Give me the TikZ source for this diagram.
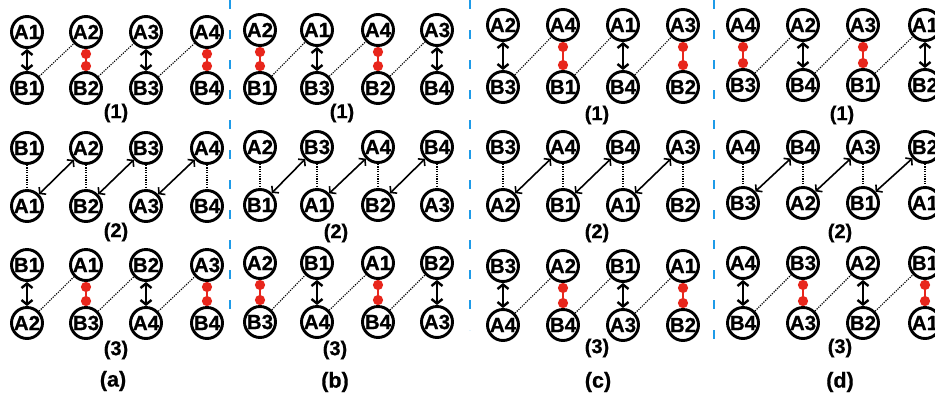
\documentclass[tikz,border=0pt]{standalone}
\usepackage{fontspec}
\setmainfont{Liberation Sans}[BoldFeatures={FakeBold=0.6}]
\usetikzlibrary{arrows.meta}
\definecolor{myred}{HTML}{E8261C}
\definecolor{myblue}{HTML}{1E9BE8}
\tikzset{
  cnode/.style={circle, draw, line width=2.9pt, minimum size=31pt, inner sep=0pt,
    font=\fontsize{20.5}{20.5}\selectfont\bfseries},
  varrow/.style={line width=2.4pt,
    {Straight Barb[length=4.5pt,width=11pt]}-{Straight Barb[length=4.5pt,width=11pt]}},
  redlink/.style={myred, line width=2.8pt, {Circle[length=10pt]}-{Circle[length=10pt]}},
  dotlink/.style={line width=1.1pt, dash pattern=on 1.2pt off 1.2pt},
  diagarrow/.style={line width=1.6pt,
    {Straight Barb[length=4pt,width=10pt]}-{Straight Barb[length=4pt,width=10pt]}},
  sublabel/.style={font=\fontsize{20}{20}\selectfont\bfseries, inner sep=0pt},
  panellabel/.style={font=\fontsize{21.5}{21.5}\selectfont\bfseries, inner sep=0pt},
  bluedash/.style={myblue, line width=2.6pt, dash pattern=on 9pt off 21pt}
}
\newcommand{\crow}[4]{%
  \foreach \xx/\ta/\tb [count=\i] in {#4} {
    \node[cnode] (#1t\i) at (\xx,#2) {\ta};
    \node[cnode] (#1b\i) at (\xx,#3) {\tb};
  }
}
\newcommand{\rowAR}[1]{%
  \draw[varrow] (#1t1) -- (#1b1);
  \draw[redlink] (#1t2) -- (#1b2);
  \draw[varrow] (#1t3) -- (#1b3);
  \draw[redlink] (#1t4) -- (#1b4);
  \draw[dotlink] (#1b1) -- (#1t2);
  \draw[dotlink] (#1b2) -- (#1t3);
  \draw[dotlink] (#1b3) -- (#1t4);
}
\newcommand{\rowRA}[1]{%
  \draw[redlink] (#1t1) -- (#1b1);
  \draw[varrow] (#1t2) -- (#1b2);
  \draw[redlink] (#1t3) -- (#1b3);
  \draw[varrow] (#1t4) -- (#1b4);
  \draw[dotlink] (#1b1) -- (#1t2);
  \draw[dotlink] (#1b2) -- (#1t3);
  \draw[dotlink] (#1b3) -- (#1t4);
}
\newcommand{\rowMID}[1]{%
  \draw[dotlink] (#1t1) -- (#1b1);
  \draw[dotlink] (#1t2) -- (#1b2);
  \draw[dotlink] (#1t3) -- (#1b3);
  \draw[dotlink] (#1t4) -- (#1b4);
  \draw[diagarrow] (#1b1) -- (#1t2);
  \draw[diagarrow] (#1b2) -- (#1t3);
  \draw[diagarrow] (#1b3) -- (#1t4);
}
\begin{document}
\begin{tikzpicture}[x=1pt,y=-1pt]
\useasboundingbox (0,0) rectangle (935,400);
\fill[white] (0,0) rectangle (935,400);
\clip (0,0) rectangle (935,400);

% blue dashed separators
\coordinate (s1a) at (230,0);  \coordinate (s1b) at (230,320);
\coordinate (s2a) at (470,0);  \coordinate (s2b) at (470,330);
\coordinate (s3a) at (714,0);  \coordinate (s3b) at (714,340);
\draw[bluedash] (s1a) -- (s1b);
\draw[bluedash] (s2a) -- (s2b);
\draw[bluedash] (s3a) -- (s3b);

% panel (a)
\crow{pa1}{32}{88}{27/A1/B1,86/A2/B2,146/A3/B3,207/A4/B4}
\rowAR{pa1}
\crow{pa2}{148}{206}{27/B1/A1,86/A2/B2,146/B3/A3,207/A4/B4}
\rowMID{pa2}
\crow{pa3}{265}{323}{27/B1/A2,86/A1/B3,146/B2/A4,207/A3/B4}
\rowAR{pa3}
\node[sublabel] (la1) at (116,113) {(1)};
\node[sublabel] (la2) at (116,232) {(2)};
\node[sublabel] (la3) at (116,350) {(3)};
\node[panellabel] (lap) at (113,381) {(a)};

% panel (b)
\crow{pb1}{30}{88}{260/A2/B1,317/A1/B3,378/A4/B2,437/A3/B4}
\rowRA{pb1}
\crow{pb2}{147}{205}{260/A2/B1,317/B3/A1,378/A4/B2,437/B4/A3}
\rowMID{pb2}
\crow{pb3}{263}{322}{260/A2/B3,317/B1/A4,378/A1/B4,437/B2/A3}
\rowRA{pb3}
\node[sublabel] (lb1) at (342,113) {(1)};
\node[sublabel] (lb2) at (336,233) {(2)};
\node[sublabel] (lb3) at (335,350) {(3)};
\node[panellabel] (lbp) at (335,382) {(b)};

% panel (c)
\crow{pc1}{25}{87}{503/A2/B3,563/A4/B1,623/A1/B4,683/A3/B2}
\rowAR{pc1}
\crow{pc2}{147}{205}{503/B3/A2,563/A4/B1,623/B4/A1,683/A3/B2}
\rowMID{pc2}
\crow{pc3}{266}{325}{503/B3/A4,563/A2/B4,623/B1/A3,683/A1/B2}
\rowAR{pc3}
\node[sublabel] (lc1) at (597,115) {(1)};
\node[sublabel] (lc2) at (597,233) {(2)};
\node[sublabel] (lc3) at (597,348) {(3)};
\node[panellabel] (lcp) at (598,382) {(c)};

% panel (d)
\crow{pd1}{25}{85}{743/A4/B3,803/A2/B4,863/A3/B1,925/A1/B2}
\rowRA{pd1}
\crow{pd2}{147}{203}{743/A4/B3,803/B4/A2,863/A3/B1,925/B2/A1}
\rowMID{pd2}
\crow{pd3}{263}{323}{743/A4/B4,803/B3/A3,863/A2/B2,925/B1/A1}
\rowAR{pd3}
\node[sublabel] (ld1) at (842,115) {(1)};
\node[sublabel] (ld2) at (840,233) {(2)};
\node[sublabel] (ld3) at (840,348) {(3)};
\node[panellabel] (ldp) at (840,382) {(d)};
\end{tikzpicture}
\end{document}
